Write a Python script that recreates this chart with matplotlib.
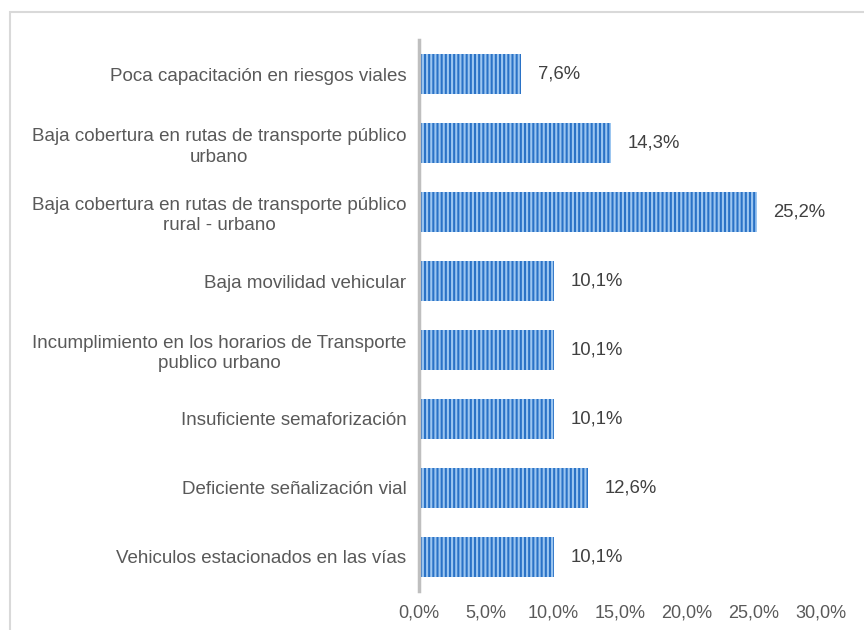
import numpy as np
import matplotlib.pyplot as plt
from matplotlib.patches import Rectangle
from matplotlib.ticker import FuncFormatter

plt.rcParams['font.family'] = ['Liberation Sans', 'DejaVu Sans']
plt.rcParams['hatch.linewidth'] = 1.5

# Datos
categorias = [
    'Poca capacitación en riesgos viales',
    'Baja cobertura en rutas de transporte público\nurbano',
    'Baja cobertura en rutas de transporte público\nrural - urbano',
    'Baja movilidad vehicular',
    'Incumplimiento en los horarios de Transporte\npublico urbano',
    'Insuficiente semaforización',
    'Deficiente señalización vial',
    'Vehiculos estacionados en las vías',
]
valores = [7.6, 14.3, 25.2, 10.1, 10.1, 10.1, 12.6, 10.1]

gris = '#595959'

fig = plt.figure(figsize=(8.64, 6.3), dpi=100)
# marco del gráfico (recortado a la derecha y abajo)
fig.patches.append(Rectangle((10/864, -0.05), 1.0, 1 - 12/630 + 0.05,
                             transform=fig.transFigure, fill=False,
                             edgecolor='#d9d9d9', linewidth=1.5))

ax = fig.add_axes([419/864, 39/630, 402/864, 551/630])
y = np.arange(len(categorias))
ax.barh(y, valores, height=0.58, color='#2a72c6', edgecolor='#9cc6f0',
        linewidth=0, hatch='||||')
ax.set_ylim(len(categorias) - 0.5, -0.5)
ax.set_xlim(0, 30)
ax.set_xticks(np.arange(0, 31, 5))
ax.xaxis.set_major_formatter(FuncFormatter(lambda v, p: f'{v:.1f}%'.replace('.', ',')))
ax.set_yticks(y)
ax.set_yticklabels(categorias, multialignment='center', linespacing=1.25)

for i, v in enumerate(valores):
    ax.annotate(f'{v:.1f}%'.replace('.', ','), (v, i), xytext=(12, 0),
                textcoords='offset points', va='center', ha='left',
                fontsize=13.3, color='#404040')

for s in ['top', 'right', 'bottom']:
    ax.spines[s].set_visible(False)
ax.spines['left'].set_color('#bfbfbf')
ax.spines['left'].set_linewidth(2.5)
ax.tick_params(axis='y', length=0, colors=gris, labelsize=13.5, pad=9)
ax.tick_params(axis='x', length=0, colors=gris, labelsize=13, pad=10)

plt.savefig('out.png', dpi=100)
